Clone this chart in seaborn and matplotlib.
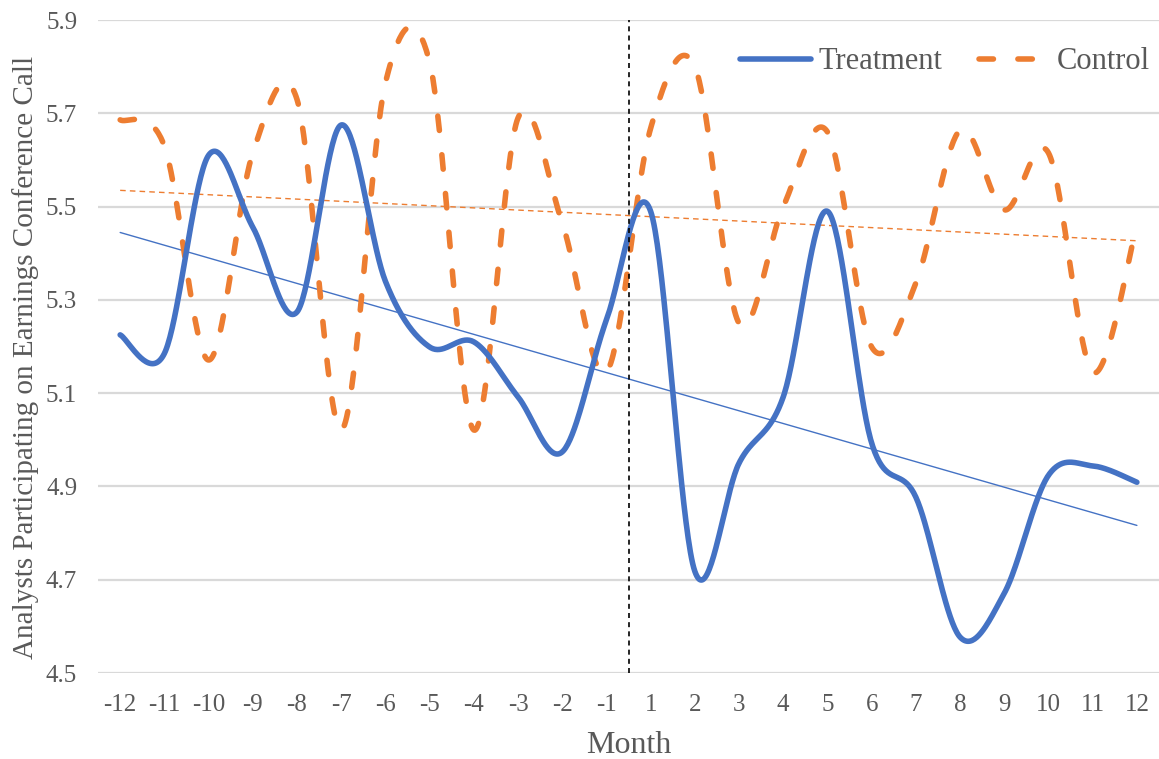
import numpy as np
import pandas as pd
import matplotlib
matplotlib.use("Agg")
import matplotlib.pyplot as plt
import seaborn as sns

months = [-12, -11, -10, -9, -8, -7, -6, -5, -4, -3, -2, -1,
          1, 2, 3, 4, 5, 6, 7, 8, 9, 10, 11, 12]
treatment = [5.225, 5.185, 5.61, 5.456, 5.274, 5.675, 5.34, 5.199, 5.21, 5.092, 4.974, 5.257,
             5.49, 4.718, 4.95, 5.092, 5.49, 4.993, 4.877, 4.577, 4.671, 4.924, 4.944, 4.909]
control = [5.686, 5.63, 5.171, 5.615, 5.73, 5.021, 5.765, 5.81, 5.021, 5.69, 5.465, 5.145,
           5.668, 5.80, 5.25, 5.50, 5.66, 5.199, 5.336, 5.664, 5.493, 5.615, 5.145, 5.46]
yticks = [4.5, 4.7, 4.9, 5.1, 5.3, 5.5, 5.7, 5.9]

BLUE = "#4472C4"
ORANGE = "#ED7D31"
GRAY = "#595959"


def smooth(xs, ys, n=40):
    P = np.column_stack([xs, ys]).astype(float)
    out = []
    m = len(P)
    for i in range(m - 1):
        p0 = P[i - 1] if i > 0 else P[i]
        p1 = P[i]
        p2 = P[i + 1]
        p3 = P[i + 2] if i + 2 < m else P[i + 1]
        c1 = p1 + (p2 - p0) / 6.0
        c2 = p2 - (p3 - p1) / 6.0
        t = np.linspace(0, 1, n, endpoint=(i == m - 2))[:, None]
        B = (1 - t) ** 3 * p1 + 3 * (1 - t) ** 2 * t * c1 + 3 * (1 - t) * t ** 2 * c2 + t ** 3 * p2
        out.append(B)
    return np.vstack(out)


pos = np.arange(len(months))
st = smooth(pos, treatment)
sc = smooth(pos, control)
df_t = pd.DataFrame({"x": st[:, 0], "y": st[:, 1]})
df_c = pd.DataFrame({"x": sc[:, 0], "y": sc[:, 1]})

sns.set_theme(style="white")
plt.rcParams["font.family"] = ["Liberation Serif", "DejaVu Serif"]

fig = plt.figure(figsize=(11.59, 7.59), dpi=100)
ax = fig.add_axes([0.0846, 0.1133, 0.9154, 0.8603])

for yv in yticks:
    ax.axhline(yv, color="#D9D9D9", lw=1.6, zorder=0)

# trend lines
bt = np.polyfit(pos, treatment, 1)
bc = np.polyfit(pos, control, 1)
ends = np.array([pos[0], pos[-1]])
ax.plot(ends, np.polyval(bt, ends), color=BLUE, lw=1.0, zorder=2)
ax.plot(ends, np.polyval(bc, ends), color=ORANGE, lw=1.0, ls=(0, (4, 3)), zorder=2)

sns.lineplot(data=df_t, x="x", y="y", sort=False, estimator=None, ax=ax,
             color=BLUE, lw=4.0, label="Treatment", zorder=4,
             solid_capstyle="round")
sns.lineplot(data=df_c, x="x", y="y", sort=False, estimator=None, ax=ax,
             color=ORANGE, lw=4.0, label="Control", zorder=3,
             dashes=False, dash_capstyle="round")
for ln in ax.get_lines():
    if ln.get_label() == "Control":
        ln.set_linestyle((0, (2.6, 4.4)))
        ln.set_dash_capstyle("round")

ax.axvline(11.5, color="black", lw=1.2, ls=(0, (3, 2.5)), zorder=5)

ax.set_xlim(-0.5, len(months) - 0.5)
ax.set_ylim(4.5, 5.9)
ax.set_xticks(pos)
ax.set_xticklabels([str(m) for m in months])
ax.set_yticks(yticks)
ax.set_yticklabels([f"{v:.1f}" for v in yticks])
ax.tick_params(axis="both", length=0, labelsize=18, colors=GRAY)
ax.tick_params(axis="x", pad=15)
ax.tick_params(axis="y", pad=15)
for s in ax.spines.values():
    s.set_visible(False)

ax.set_xlabel("Month", fontsize=23, color=GRAY, labelpad=11)
ax.set_ylabel("Analysts Participating on Earnings Conference Call", fontsize=21,
              color=GRAY)
ax.yaxis.set_label_coords(-0.0556, 0.484)

leg = ax.legend(loc="upper right", bbox_to_anchor=(1.0, 0.972), ncol=2, frameon=False,
                fontsize=22, handlelength=2.3, handletextpad=0.25, columnspacing=1.2,
                borderaxespad=0.0, borderpad=0.3, labelcolor=GRAY)

fig.savefig("out.png", dpi=100)
